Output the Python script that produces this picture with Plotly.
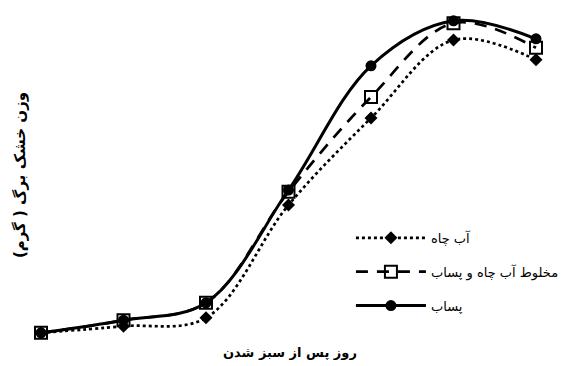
import plotly.graph_objs as go

# days after emergence (no tick labels shown in the original, equally spaced)
days = [1, 2, 3, 4, 5, 6, 7]

# leaf dry weight (g)
well_water = [0.12, 0.23, 0.37, 2.25, 3.70, 5.00, 4.67]
mixed_water = [0.12, 0.33, 0.62, 2.47, 4.05, 5.28, 4.87]
wastewater = [0.12, 0.33, 0.62, 2.50, 4.57, 5.32, 5.02]

names = ['آب چاه', 'مخلوط آب چاه و پساب', 'پساب']

fig = go.Figure()
fig.add_trace(go.Scatter(x=days, y=well_water, name=names[0], legendgroup='a',
                         mode='lines+markers', line=dict(color='black', width=2.7, dash='dot', shape='spline'),
                         marker=dict(symbol='diamond', size=10, color='black')))
fig.add_trace(go.Scatter(x=days, y=mixed_water, name=names[1], legendgroup='b',
                         mode='lines+markers', line=dict(color='black', width=2.7, dash='12px,9px', shape='spline'),
                         marker=dict(symbol='square-open', size=12, color='black', line=dict(width=2))))
fig.add_trace(go.Scatter(x=days, y=wastewater, name=names[2], legendgroup='c',
                         mode='lines+markers', line=dict(color='black', width=3, shape='spline'),
                         marker=dict(symbol='circle', size=11, color='black')))

fig.update_layout(
    width=571, height=366,
    margin=dict(l=31, r=5, t=10, b=26),
    plot_bgcolor='white', paper_bgcolor='white',
    font=dict(family='DejaVu Sans', color='black'),
    showlegend=True,
    legend=dict(x=0.598, y=0.355, xanchor='left', yanchor='top', bgcolor='rgba(0,0,0,0)',
                font=dict(size=13), tracegroupgap=14, traceorder='grouped', itemwidth=70),
    xaxis=dict(range=[0.8788, 7.3636], showgrid=False, zeroline=False, showline=False,
               showticklabels=False, ticks='', automargin=False),
    yaxis=dict(range=[0, 5.5], showgrid=False, zeroline=False, showline=False,
               showticklabels=False, ticks='', automargin=False,
               title=dict(text='<b>وزن خشک برگ ( گرم)</b>', font=dict(size=15), standoff=0)),
)

# x axis title, placed by hand so it sits under the middle of the curves
fig.add_annotation(text='<b>روز پس از سبز شدن</b>', xref='paper', yref='paper',
                   x=0.484, y=-0.039, xanchor='center', yanchor='middle',
                   showarrow=False, font=dict(size=13))

fig.write_html("out.html", config={'displayModeBar': False},
               post_script="document.body.style.margin='0';")
